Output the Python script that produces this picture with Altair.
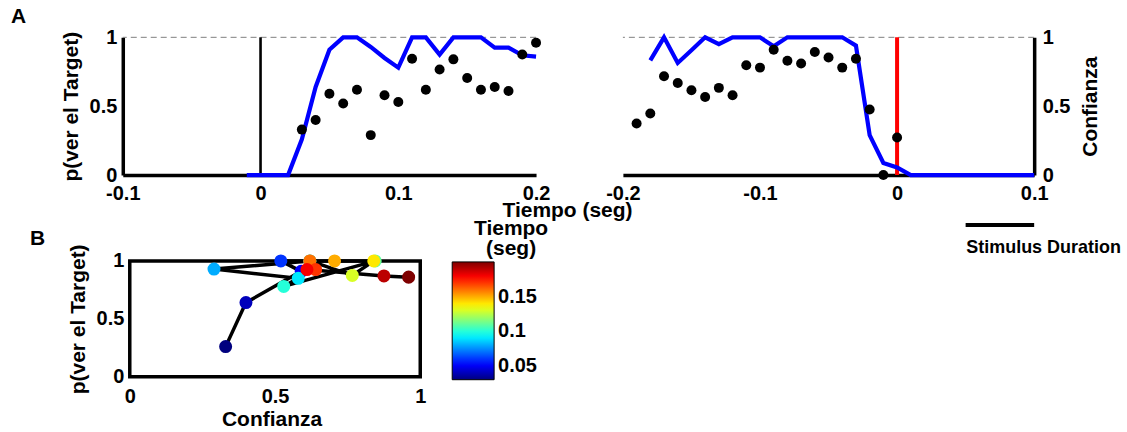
import altair as alt
import pandas as pd
import numpy as np

# ---------------- data ----------------
# Panel A, left: aligned to stimulus onset
left_dot_t = [0.03, 0.04, 0.05, 0.06, 0.07, 0.08, 0.09, 0.10, 0.11, 0.12,
              0.13, 0.14, 0.15, 0.16, 0.17, 0.18, 0.19, 0.20]
left_dot_v = [0.33, 0.40, 0.59, 0.52, 0.62, 0.29, 0.58, 0.53, 0.845, 0.62,
              0.766, 0.84, 0.705, 0.62, 0.64, 0.61, 0.875, 0.96]
left_line_t = [-0.01, 0.00, 0.01, 0.02, 0.03, 0.04, 0.05, 0.06, 0.07, 0.08, 0.09,
               0.10, 0.11, 0.12, 0.13, 0.14, 0.15, 0.16, 0.17, 0.18, 0.19, 0.20]
left_line_v = [0.0, 0.0, 0.0, 0.0, 0.26, 0.64, 0.91, 1.0, 1.0, 0.93, 0.85,
               0.78, 1.0, 1.0, 0.875, 1.0, 1.0, 1.0, 0.925, 0.925, 0.87, 0.86]

# Panel A, right: aligned to response
right_dot_t = [-0.19, -0.18, -0.17, -0.16, -0.15, -0.14, -0.13, -0.12, -0.11, -0.10,
               -0.09, -0.08, -0.07, -0.06, -0.05, -0.04, -0.03, -0.02, -0.01, 0.00]
right_dot_v = [0.375, 0.447, 0.717, 0.669, 0.616, 0.567, 0.633, 0.58, 0.797, 0.78,
               0.91, 0.83, 0.81, 0.894, 0.853, 0.78, 0.845, 0.476, 0.0, 0.273]
right_line_t = [-0.18, -0.17, -0.16, -0.15, -0.14, -0.13, -0.12, -0.11, -0.10, -0.09,
                -0.08, -0.07, -0.06, -0.05, -0.04, -0.03, -0.02, -0.01, 0.00, 0.01,
                0.02, 0.03, 0.04, 0.05, 0.06, 0.07, 0.08, 0.09, 0.10]
right_line_v = [0.833, 1.0, 0.814, 0.906, 1.0, 0.95, 1.0, 1.0, 1.0, 0.935,
                1.0, 1.0, 1.0, 1.0, 1.0, 0.94, 0.29, 0.088, 0.055, 0.0,
                0.0, 0.0, 0.0, 0.0, 0.0, 0.0, 0.0, 0.0, 0.0]

stim_on, stim_off = 0.05, 0.10

left_ticks = [-0.1, 0, 0.1, 0.2]
right_ticks = [-0.2, -0.1, 0, 0.1]
p_ticks = [0, 0.5, 1]
cbar_ticks = [0.05, 0.1, 0.15]

jet = ["#00007f", "#0000ff", "#007fff", "#00ffff", "#7fff7f",
       "#ffff00", "#ff7f00", "#ff0000", "#7f0000"]
t_min, t_max = 0.03, 0.20
jet_domain = [float(v) for v in np.linspace(t_min, t_max, len(jet))]

FONT = "Liberation Sans"
MINUS = "replace(format(datum.value, '~g'), '\u2212', '-')"

# ---------------- frames ----------------
dfLd = pd.DataFrame({"t": left_dot_t, "v": left_dot_v})
dfLl = pd.DataFrame({"t": left_line_t, "v": left_line_v})
dfRd = pd.DataFrame({"t": right_dot_t, "v": right_dot_v})
dfRl = pd.DataFrame({"t": right_line_t, "v": right_line_v})
line_lookup = {round(t, 2): v for t, v in zip(left_line_t, left_line_v)}
dfB = pd.DataFrame({"t": left_dot_t, "conf": left_dot_v,
                    "p": [line_lookup[round(t, 2)] for t in left_dot_t]})
dfStim = pd.DataFrame({"a": [stim_on], "b": [stim_off]})
one = pd.DataFrame({"k": [0]})

ysc = alt.Scale(domain=[0, 1], nice=False, zero=False)


def label(txt, x, y, size=21, align="left"):
    return alt.Chart(one).mark_text(text=txt, fontSize=size, fontWeight="bold", font=FONT,
                                    align=align, baseline="alphabetic", color="black").encode(
        x=alt.value(x), y=alt.value(y))


# ---------------- panel A left ----------------
xL = alt.Scale(domain=[-0.1, 0.2], nice=False, zero=False)
xL_axis = alt.Axis(values=left_ticks, title="Tiempo (seg)", titleX=445, titleY=42,
                   titleBaseline="alphabetic", titleAlign="center")
yL_axis = alt.Axis(values=p_ticks, title="p(ver el Target)", titlePadding=8, labelPadding=6)

dashL = alt.Chart(one).mark_rule(color="#7f7f7f", strokeWidth=1, strokeDash=[6, 4]).encode(
    y=alt.datum(1, scale=ysc))
vlineL = alt.Chart(one).mark_rule(color="black", strokeWidth=2.6).encode(
    x=alt.datum(0, scale=xL), y=alt.datum(0), y2=alt.datum(1))
lineL = alt.Chart(dfLl).mark_line(color="#0000ff", strokeWidth=4.2).encode(
    x=alt.X("t:Q", scale=xL, axis=xL_axis),
    y=alt.Y("v:Q", scale=ysc, axis=yL_axis))
dotsL = alt.Chart(dfLd).mark_circle(color="black", size=100, opacity=1).encode(
    x="t:Q", y="v:Q")
panelAL = alt.layer(dashL, vlineL, lineL, dotsL, label("A", -112, -14, 21)).properties(
    width=414, height=138)

# ---------------- panel A right ----------------
xR = alt.Scale(domain=[-0.2, 0.1], nice=False, zero=False)
xR_axis = alt.Axis(values=right_ticks, title=None)
yR_axis = alt.Axis(values=p_ticks, orient="right", title="Confianza", titleAngle=270,
                   titleBaseline="top", titlePadding=10, labelPadding=8)
dashR = alt.Chart(one).mark_rule(color="#7f7f7f", strokeWidth=1, strokeDash=[6, 4]).encode(
    y=alt.datum(1, scale=ysc))
vlineR = alt.Chart(one).mark_rule(color="#ff0000", strokeWidth=4).encode(
    x=alt.datum(0, scale=xR), y=alt.datum(0), y2=alt.datum(1))
lineR = alt.Chart(dfRl).mark_line(color="#0000ff", strokeWidth=4.2).encode(
    x=alt.X("t:Q", scale=xR, axis=xR_axis),
    y=alt.Y("v:Q", scale=ysc, axis=yR_axis))
dotsR = alt.Chart(dfRd).mark_circle(color="black", size=100, opacity=1).encode(
    x="t:Q", y="v:Q")
stimRule = alt.Chart(dfStim).mark_rule(color="black", strokeWidth=4).encode(
    x="a:Q", x2="b:Q", y=alt.value(188))
panelAR = alt.layer(dashR, vlineR, lineR, dotsR, stimRule,
                    label("Stimulus Duration", 344, 216, 18)).properties(width=412, height=138)

# ---------------- panel B ----------------
B_SHIFT = 7      # px between the column edge and panel B's frame
B_W = 291
bx = alt.Scale(domain=[-B_SHIFT / B_W, 1], nice=False, zero=False)
by = alt.Scale(domain=[0, 1], nice=False, zero=False)
frameB = alt.Chart(one).mark_rect(filled=False, stroke="black", strokeWidth=3.5).encode(
    x=alt.datum(0, scale=bx), x2=alt.datum(1), y=alt.datum(0, scale=by), y2=alt.datum(1))
lineB = alt.Chart(dfB).mark_line(color="black", strokeWidth=3.5).encode(
    x=alt.X("conf:Q", scale=bx,
            axis=alt.Axis(values=p_ticks, title="Confianza", titlePadding=2, labelPadding=10,
                          domain=False)),
    y=alt.Y("p:Q", scale=by,
            axis=alt.Axis(values=p_ticks, title="p(ver el Target)", titlePadding=8,
                          labelPadding=6, domain=False, offset=-B_SHIFT)),
    order="t:Q")
ptsB = alt.Chart(dfB).mark_circle(size=170, opacity=1).encode(
    x="conf:Q", y="p:Q",
    color=alt.Color("t:Q", title=None,
                    scale=alt.Scale(domain=jet_domain, range=jet, interpolate="rgb"),
                    legend=alt.Legend(orient="none", legendX=330, legendY=225,
                                      direction="vertical", gradientLength=118,
                                      gradientThickness=42, values=cbar_ticks,
                                      labelExpr="format(datum.value, '.2~f')",
                                      labelFontSize=20, labelFont=FONT, labelFontWeight="bold",
                                      labelColor="black", labelOffset=4, labelOverlap=False,
                                      gradientStrokeColor="black", gradientStrokeWidth=1)))
panelB = alt.layer(frameB, lineB, ptsB,
                   label("B", -93, -16, 21),
                   label("Tiempo", 389, -26, 21, "center"),
                   label("(seg)", 389, -6, 21, "center")).properties(
    width=B_W + B_SHIFT, height=116)

chart = alt.concat(panelAL, panelAR, panelB, columns=2, bounds="flush",
                   spacing={"row": 86, "column": 87}).properties(
    padding={"left": 11, "top": 6, "right": 5, "bottom": 2}
).configure(font=FONT, background="white").configure_view(strokeWidth=0).configure_axis(
    domainColor="black", domainWidth=3.5, ticks=False, tickSize=0, grid=False,
    labelFont=FONT, labelFontSize=20, labelFontWeight="bold", labelColor="black",
    labelFlush=False, labelExpr=MINUS,
    titleFont=FONT, titleFontSize=21, titleFontWeight="bold", titleColor="black",
    labelPadding=8
)

chart.save("out.html", embed_options={"renderer": "svg", "actions": False})
